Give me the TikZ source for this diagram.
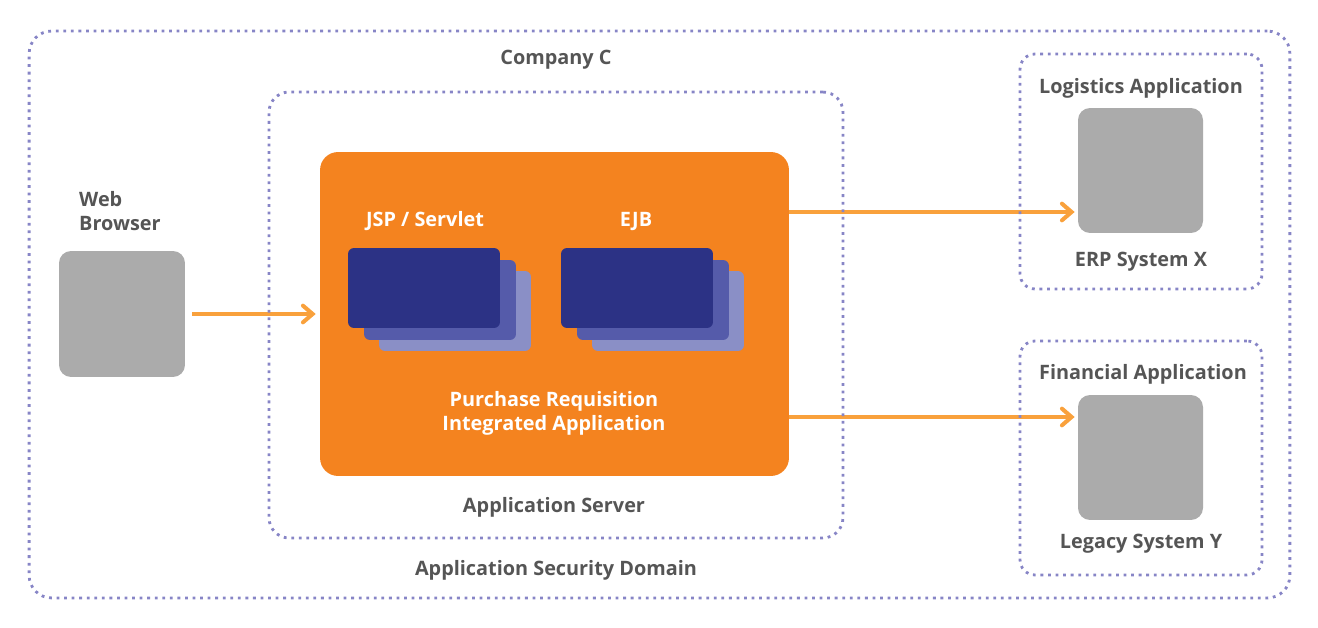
\documentclass[tikz,border=0pt]{standalone}
\usepackage{fontspec}
\setmainfont{Open Sans}
\usetikzlibrary{arrows.meta, positioning, backgrounds}
\definecolor{zoneDot}{HTML}{8785C6}
\definecolor{appOrange}{HTML}{F4831F}
\definecolor{flowOrange}{HTML}{F9A13C}
\definecolor{sysGray}{HTML}{ABABAB}
\definecolor{labelGray}{HTML}{555555}
\definecolor{compDark}{HTML}{2C3285}
\definecolor{compMid}{HTML}{555BAA}
\definecolor{compLight}{HTML}{8A8FC6}
\tikzset{
  zone/.style={draw=zoneDot, line width=1.6pt, dash pattern=on 1.6pt off 2.7pt,
               rounded corners=#1, inner sep=0pt},
  zone/.default=0.3cm,
  system/.style={fill=sysGray, rounded corners=0.24cm, inner sep=0pt,
                 minimum width=2.5cm, minimum height=2.5cm},
  comp/.style={fill=#1, rounded corners=0.12cm, inner sep=0pt,
               minimum width=3.04cm, minimum height=1.6cm},
  lbl/.style={text=labelGray, font=\fontsize{11.3}{13.6}\selectfont\bfseries, align=center},
  wlbl/.style={text=white, font=\fontsize{11.3}{13.6}\selectfont\bfseries, align=center},
  flow/.style={draw=flowOrange, line width=2.3pt,
               -{Straight Barb[length=5.5pt, width=9.5pt, line cap=round]}},
}
\begin{document}
\begin{tikzpicture}[x=0.02cm, y=-0.02cm]
\useasboundingbox (0,0) rectangle (1318,628);
% security domain and server
\node[zone=0.45cm, minimum width=25.22cm, minimum height=11.34cm] (domain) at (659.5,314.5) {};
\node[zone=0.4cm, minimum width=11.48cm, minimum height=8.92cm] (server) at (556,315) {};
\node[lbl] (company) at (556,60) {Company C};
\node[lbl] (domainlbl) at (556,570) {Application Security Domain};
\node[lbl] (serverlbl) at (554,507) {Application Server};
% web browser
\node[system, minimum width=2.52cm, minimum height=2.52cm] (browser) at (122,314) {};
\node[lbl, align=left, anchor=west] (browserlbl) at (73,211) {Web\\Browser};
% integrated application
\node[fill=appOrange, rounded corners=0.36cm, inner sep=0pt,
      minimum width=9.38cm, minimum height=6.48cm] (app) at (554.5,314) {};
\node[wlbl] (jsplbl) at (425,221) {JSP / Servlet};
\node[wlbl] (ejblbl) at (636,221) {EJB};
\node[wlbl] (applbl) at (554,413) {Purchase Requisition\\Integrated Application};
\foreach \nm/\cx in {jsp/424, ejb/637}{
  \node[comp=compLight] (\nm3) at (\cx+31,311) {};
  \node[comp=compMid] (\nm2) at (\cx+16,300) {};
  \node[comp=compDark] (\nm1) at (\cx,288) {};
}
% target systems
\node[zone, minimum width=4.84cm, minimum height=4.7cm] (logistics) at (1141,171.5) {};
\node[lbl] (logisticslbl) at (1141,88) {Logistics Application};
\node[system] (erp) at (1140.5,170.5) {};
\node[lbl] (erplbl) at (1141,262) {ERP System X};
\node[zone, minimum width=4.84cm, minimum height=4.68cm] (financial) at (1141,458) {};
\node[lbl] (financiallbl) at (1143,374) {Financial Application};
\node[system] (legacy) at (1140.5,457.5) {};
\node[lbl] (legacylbl) at (1141,544) {Legacy System Y};
% connectors
\begin{scope}[on background layer]
\draw[flow, shorten <=0.14cm, shorten >=0.08cm] (browser.east) -- (app.west);
\draw[flow, shorten >=0.06cm] (app.east |- 0,212) -- (erp.west |- 0,212);
\draw[flow, shorten >=0.06cm] (app.east |- 0,417) -- (legacy.west |- 0,417);
\end{scope}
\end{tikzpicture}
\end{document}
